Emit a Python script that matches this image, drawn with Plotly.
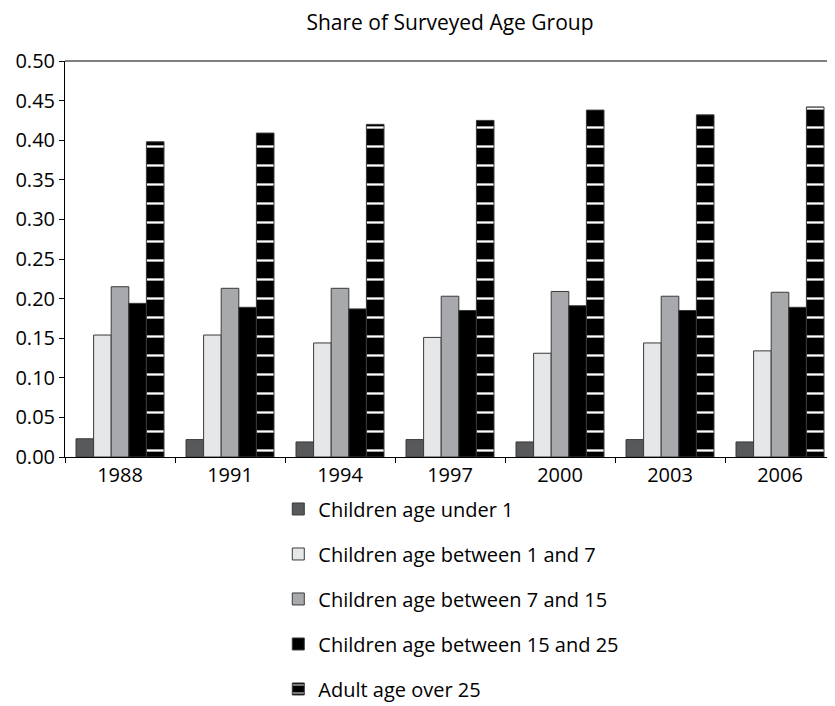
import plotly.graph_objects as go

years = ["1988", "1991", "1994", "1997", "2000", "2003", "2006"]

under_1 = [0.023, 0.022, 0.019, 0.022, 0.019, 0.022, 0.019]
age_1_7 = [0.154, 0.154, 0.144, 0.151, 0.131, 0.144, 0.134]
age_7_15 = [0.215, 0.213, 0.213, 0.203, 0.209, 0.203, 0.208]
age_15_25 = [0.194, 0.189, 0.187, 0.185, 0.191, 0.185, 0.189]
adult_25 = [0.398, 0.409, 0.420, 0.425, 0.438, 0.432, 0.442]

series_names = [
    "Children age under 1",
    "Children age between 1 and 7",
    "Children age between 7 and 15",
    "Children age between 15 and 25",
    "Adult age over 25",
]
series_values = [under_1, age_1_7, age_7_15, age_15_25, adult_25]
fill_colors = ["#58595b", "#e6e7e8", "#a7a9ac", "#000000", "#000000"]

FONT = "Open Sans"

fig = go.Figure()

for i, (name, vals) in enumerate(zip(series_names, series_values)):
    marker = dict(color=fill_colors[i], line=dict(color="#3a3a3a", width=1))
    if i == 4:
        # adult bars: black with white horizontal dashes
        marker["pattern"] = dict(shape="-", fgcolor="white", bgcolor="black",
                                 size=19, solidity=0.12, fillmode="replace")
    fig.add_trace(go.Bar(
        x=years,
        y=vals,
        name=name,
        marker=marker,
        legendgroup=f"g{i}",
    ))

# the page body adds an 8px offset, so the figure is 8px smaller on each axis
fig.update_layout(
    width=827,
    height=698,
    barmode="group",
    bargap=0.2,
    bargroupgap=0,
    plot_bgcolor="white",
    paper_bgcolor="white",
    font=dict(family=FONT, size=20, color="black"),
    title=dict(text="Share of Surveyed Age Group", xref="paper", x=0.5, xanchor="center",
               y=0.979, yanchor="middle", font=dict(family=FONT, size=21, color="black")),
    margin=dict(l=57, r=0, t=53, b=249, autoexpand=False),
    showlegend=True,
    legend=dict(
        x=0.277, y=-0.082, xanchor="left", yanchor="top",
        orientation="v",
        font=dict(family=FONT, size=20, color="black"),
        tracegroupgap=16,
        bgcolor="rgba(0,0,0,0)",
    ),
    xaxis=dict(
        showline=True, linecolor="black", linewidth=1,
        ticks="outside", ticklen=5, tickcolor="black",
        tickson="boundaries",
        showgrid=False,
        automargin=False,
    ),
    yaxis=dict(
        range=[0, 0.5],
        dtick=0.05,
        tickformat=".2f",
        showline=True, linecolor="black", linewidth=1,
        ticks="outside", ticklen=5, tickcolor="black",
        showgrid=False,
        zeroline=False,
        automargin=False,
    ),
)

# gray frame line along the top of the plot area
fig.add_shape(type="line", xref="paper", yref="paper", x0=0, x1=1, y0=1, y1=1,
              line=dict(color="#555555", width=1.5))

fig.write_html("out.html")
